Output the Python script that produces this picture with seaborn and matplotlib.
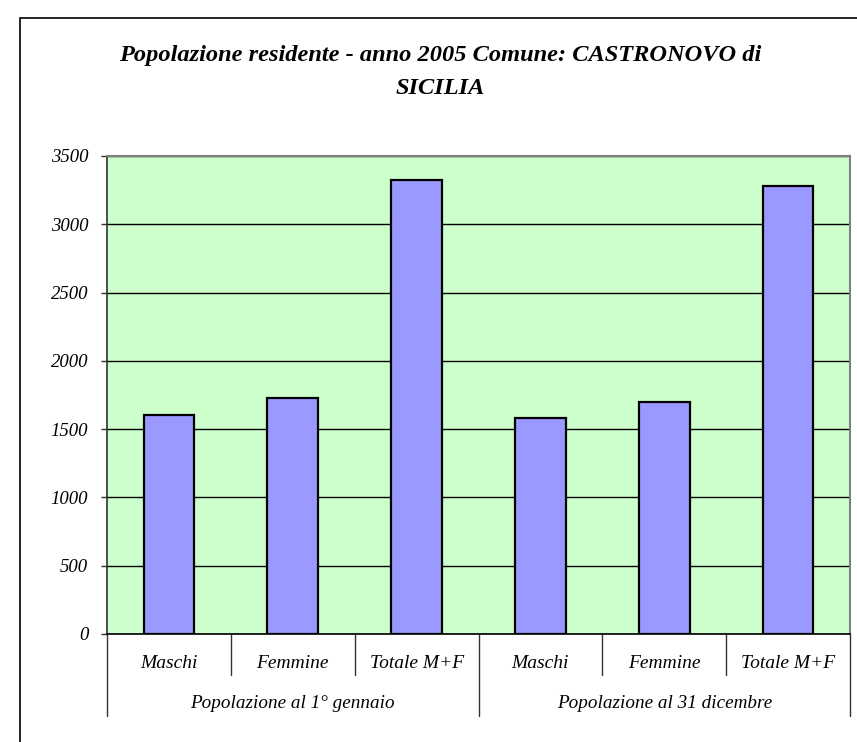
import pandas as pd
import matplotlib.pyplot as plt
import seaborn as sns
from matplotlib.patches import Rectangle

# Data
groups = ['Popolazione al 1° gennaio', 'Popolazione al 31 dicembre']
categories = ['Maschi', 'Femmine', 'Totale M+F']
values_gennaio = [1600, 1728, 3323]
values_dicembre = [1584, 1700, 3278]

rows = []
for g, vals in zip(groups, [values_gennaio, values_dicembre]):
    for c, v in zip(categories, vals):
        rows.append({'key': g + ' | ' + c, 'group': g, 'category': c, 'value': v})
df = pd.DataFrame(rows)

sns.set_style('white')
plt.rcParams['font.family'] = ['Liberation Serif', 'DejaVu Serif']
plt.rcParams['text.color'] = 'black'
plt.rcParams['ytick.color'] = 'black'

fig = plt.figure(figsize=(8.57, 7.42), dpi=100)
ax = fig.add_axes([107 / 857, 1 - 634 / 742, (850 - 107) / 857, (634 - 156) / 742])

# Outer chart frame (cut off at the right and bottom)
fig.patches.append(Rectangle((20 / 857, -0.2), 2.0, 1 - 18 / 742 + 0.2,
                             transform=fig.transFigure, fill=False,
                             edgecolor='black', linewidth=1.2, zorder=0))

ax.set_facecolor('#CCFFCC')
sns.barplot(data=df, x='key', y='value', color='#9999FF', saturation=1,
            edgecolor='black', linewidth=1.6, width=0.41, ax=ax, zorder=3)

ax.set_ylim(0, 3500)
ax.set_xlim(-0.5, len(df) - 0.5)
ax.set_yticks(range(0, 3501, 500))
ax.yaxis.grid(True, color='black', linewidth=1)
ax.set_axisbelow(True)
ax.tick_params(axis='y', direction='out', length=4.5, width=1, color='#333333',
               labelcolor='black', pad=9, left=True)
ax.tick_params(axis='x', bottom=False, labelbottom=False)
for lab in ax.get_yticklabels():
    lab.set_fontstyle('italic')
    lab.set_fontsize(13.5)
ax.set_xlabel('')
ax.set_ylabel('')

for side in ['top', 'right']:
    ax.spines[side].set_color('#808080')
    ax.spines[side].set_linewidth(1.5)
ax.spines['left'].set_color('#333333')
ax.spines['left'].set_linewidth(1.2)
ax.spines['bottom'].set_color('black')
ax.spines['bottom'].set_linewidth(1.2)

# Two-level category axis
trans = ax.get_xaxis_transform()
ax_h = 634 - 156
inner_end = -(675 - 634) / ax_h
group_end = -(716 - 634) / ax_h
for i, row in df.iterrows():
    ax.text(i, -(663 - 634) / ax_h, row['category'], transform=trans,
            ha='center', va='center', fontsize=14, style='italic', color='black')
    if i % 3 != 0:
        ax.plot([i - 0.5, i - 0.5], [0, inner_end], transform=trans,
                color='#333333', linewidth=1, clip_on=False)
for j, g in enumerate(groups):
    ax.text(j * 3 + 1, -(703 - 634) / ax_h, g, transform=trans,
            ha='center', va='center', fontsize=13.8, style='italic', color='black')
for b in [-0.5, 2.5, 5.5]:
    ax.plot([b, b], [0, group_end], transform=trans,
            color='#333333', linewidth=1, clip_on=False)

fig.text(440 / 857, 1 - 72 / 742,
         'Popolazione residente - anno 2005 Comune: CASTRONOVO di\nSICILIA',
         ha='center', va='center', fontsize=17.6, fontweight='bold',
         style='italic', linespacing=1.7, color='black')

fig.savefig('out.png', dpi=100)
